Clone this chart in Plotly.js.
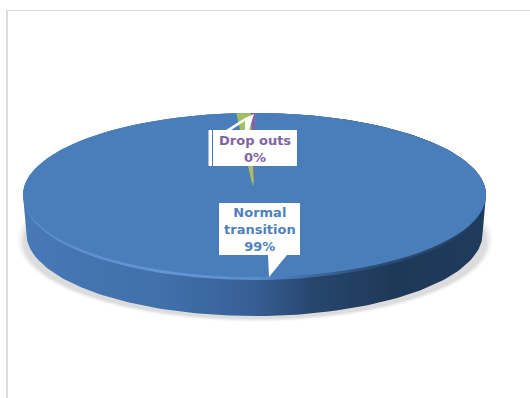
<!DOCTYPE html>
<html><head><meta charset="utf-8">
<script src="https://cdn.plot.ly/plotly-3.0.1.min.js"></script>
<style>html,body{margin:0;padding:0;background:#fff;overflow:hidden}#c{width:530px;height:398px}</style>
</head><body><div id="c"></div>
<script>
const categories = ['Normal transition', 'Unlabelled', 'Drop outs'];
const values = [98.7, 1.0, 0.3];
const sliceColors = ['#4A7EBB', '#A3BF62', '#8064A2'];
const normalLines = ['Normal', 'transition'];
const dropLines = ['Drop outs'];

const CX = 254.5, CY = 195, RX = 231.5, RY = 82;
const total = values.reduce((a, b) => a + b, 0);
const pct = v => Math.round(v / total * 100) + '%';

function arc(cx, cy, rx, ry, a0, a1) {
  const xs = [], ys = [];
  for (let i = 0; i <= 120; i++) {
    const t = (a0 + (a1 - a0) * i / 120) * Math.PI / 180;
    xs.push(cx + rx * Math.cos(t)); ys.push(cy + ry * Math.sin(t));
  }
  return [xs, ys];
}
function body(cy1, rx1, ry1, cy2, rx2, ry2, stops) {
  const a = arc(CX, cy2, rx2, ry2, 180, 0);
  const b = arc(CX, cy1, rx1, ry1, 0, -180);
  return {type: 'scatter', mode: 'lines', x: a[0].concat(b[0]), y: a[1].concat(b[1]),
    fill: 'toself', line: {width: 0}, hoverinfo: 'skip', showlegend: false,
    fillgradient: {type: 'horizontal', colorscale: stops}};
}
const rim = body(CY, RX, RY, 234, 228, 82, [[0, '#4679B6'], [0.3, '#4170AB'], [0.5, '#375F95'], [0.62, '#27476F'], [0.8, '#1E3857'], [1, '#1F3B5C']]);
const bevel = body(CY, RX, RY, CY + 3, RX - 1, RY, [[0, '#5A8BC9'], [0.3, '#6496D5'], [0.5, '#5B8ECD'], [0.62, '#3E6A9F'], [0.75, '#2A4C75'], [1, '#22405F']]);
const pie = {type: 'pie', values: values, labels: categories, sort: false, direction: 'clockwise', rotation: 0.2,
  marker: {colors: sliceColors, line: {width: 0}}, textinfo: 'none', hoverinfo: 'skip', showlegend: false,
  domain: {x: [0, 1], y: [0, 1]}};

function ell(x0, y0, x1, y1, op) {
  return {type: 'circle', xref: 'x', yref: 'y', x0, y0, x1, y1, layer: 'below', fillcolor: '#000', opacity: op, line: {width: 0}};
}
function tri(d) { return {type: 'path', xref: 'x', yref: 'y', path: d, fillcolor: '#fff', line: {width: 0}, layer: 'above'}; }
function rect(x0, y0, x1, y1, c, layer, op) { return {type: 'rect', xref: 'x', yref: 'y', x0, y0, x1, y1, fillcolor: c, line: {width: 0}, layer, opacity: op === undefined ? 1 : op}; }

const shapes = [
  rect(6, 10, 8, 398, '#DCDCDC', 'below'),
  rect(6, 10, 530, 11, '#DCDCDC', 'below'),
  ell(17, 158, 493, 322, 0.02), ell(19, 160, 491, 321, 0.03), ell(21, 162, 489, 320, 0.04), ell(23, 164, 487, 319, 0.05),
  rect(248, 182, 258, 185, '#4A7EBB', 'above', 0.5),
  rect(248, 185, 258, 198, '#4A7EBB', 'above'),
  rect(208.5, 130, 212, 166, '#fff', 'above'),
  rect(213, 130, 297, 166, '#fff', 'above'),
  tri('M226,130 L245,118 L245,121 L231,130 Z'),
  tri('M245,130 L245,118 L254,114 L249,130 Z'),
  rect(219, 203, 300, 255, '#fff', 'above'),
  tri('M268,255 L269,277 L287,255 Z')
];
const ann = (x, y, lines, c) => ({xref: 'x', yref: 'y', x, y, showarrow: false, align: 'center', text: '<b>' + lines.join('<br>') + '</b>',
  font: {family: 'DejaVu Sans, sans-serif', size: 13, color: c}});
const annotations = [
  ann(259.5, 229.5, normalLines.concat(pct(values[0])), '#4F81BD'),
  ann(255, 148.5, dropLines.concat(pct(values[2])), '#8064A2')
];
const layout = {width: 530, height: 398, margin: {l: 0, r: 0, t: 0, b: 0}, paper_bgcolor: '#fff', plot_bgcolor: 'rgba(0,0,0,0)',
  xaxis: {range: [0, 530], visible: false, fixedrange: true},
  yaxis: {range: [398, 0], visible: false, fixedrange: true},
  showlegend: false, shapes, annotations};

Plotly.newPlot('c', [rim, bevel, pie], layout, {displayModeBar: false, staticPlot: true}).then(gd => {
  const s = 199;
  gd.querySelector('.pielayer').setAttribute('transform',
    `translate(${CX},${CY}) scale(${RX / s},${RY / s}) translate(-265,-199)`);
});
</script></body></html>
